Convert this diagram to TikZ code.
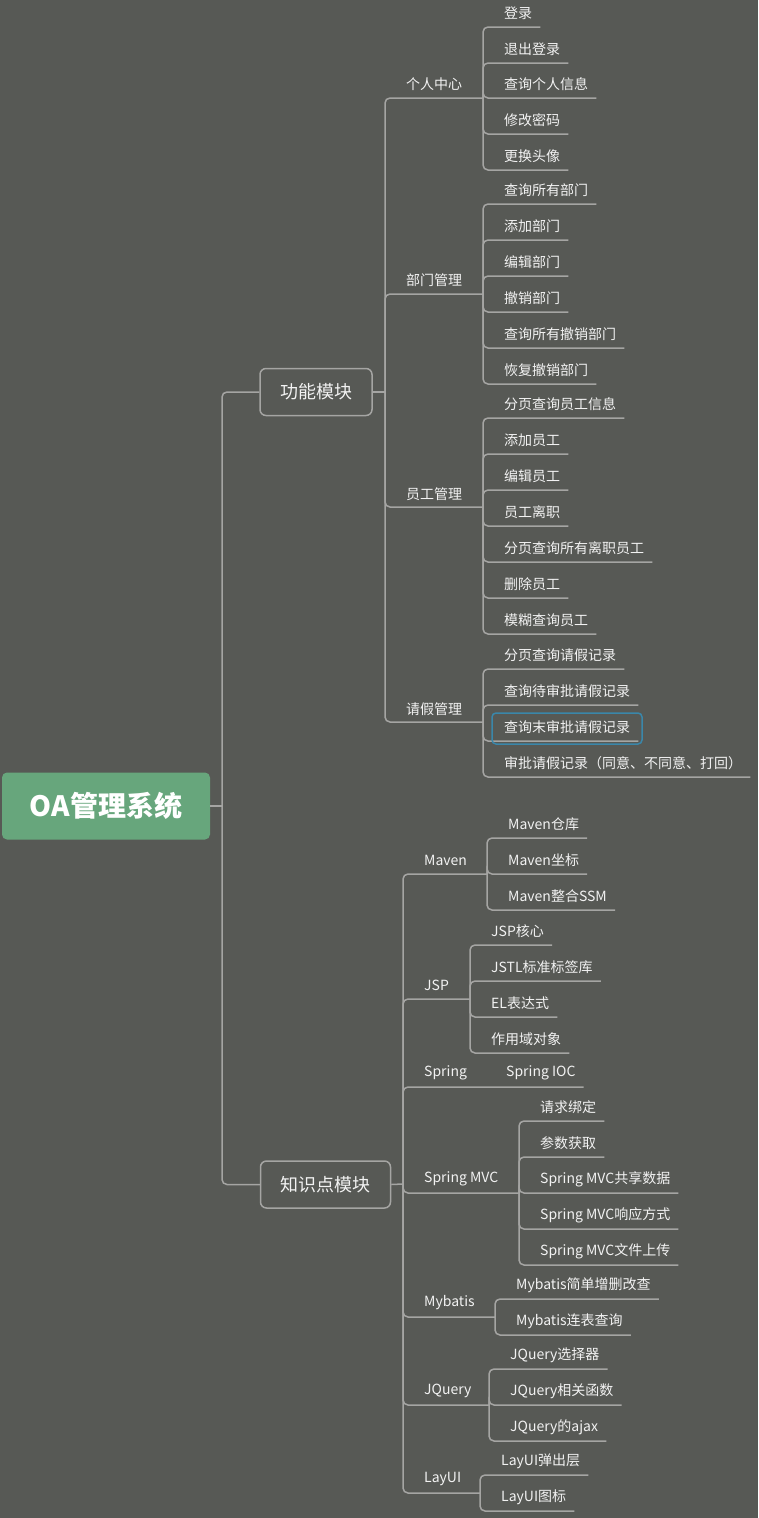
\documentclass[tikz,border=0pt]{standalone}
\usepackage{fontspec}
\setmainfont{Noto Sans CJK SC}
\definecolor{bggray}{RGB}{87,89,85}
\definecolor{linegray}{RGB}{165,165,163}
\definecolor{textwhite}{RGB}{242,242,242}
\definecolor{rootgreen}{RGB}{103,166,124}
\definecolor{markblue}{RGB}{58,135,170}
\begin{document}
\begin{tikzpicture}[x=1pt,y=-1pt,
  link/.style={draw=linegray,line width=1.5pt,rounded corners=5pt},
  leaf/.style={anchor=west,inner sep=0pt,text=textwhite,font=\fontsize{14}{16}\selectfont},
  topic/.style={draw=linegray,line width=1.5pt,rounded corners=6pt,text=textwhite,
    font=\fontsize{18}{20}\selectfont,inner xsep=20pt,inner ysep=0pt,minimum height=47pt},
  rootbox/.style={fill=rootgreen,rounded corners=5pt,text=white,
    font=\fontsize{28}{30}\selectfont\bfseries,minimum width=208pt,minimum height=67pt},
  hilite/.style={draw=markblue,line width=1.5pt,rounded corners=4pt}]

  % Background and page size
  \fill[bggray] (0,0) rectangle (758,1518);
  \useasboundingbox (0,0) rectangle (758,1518);

  % Marking root and main topics
  \node[rootbox] (root) at (106,806) {OA管理系统};
  \node[topic] (func) at (316,392) {功能模块};
  \node[topic] (know) at (325.5,1184.5) {知识点模块};

  % Junction points on the trunks
  \coordinate (jroot) at (222,806);
  \coordinate (jfunc) at (385,392);
  \coordinate (jknow) at (403,1184);
  \coordinate (jpersonal) at (483,98);
  \coordinate (jdept) at (483,294);
  \coordinate (jstaff) at (483,507);
  \coordinate (jleave) at (483,722);
  \coordinate (jmaven) at (487,874);
  \coordinate (jjsp) at (470,999);
  \coordinate (jspringmvc) at (519,1193);
  \coordinate (jmybatis) at (495,1317);
  \coordinate (jjquery) at (489,1405);
  \coordinate (jlayui) at (480,1493);

  % Drawing lines root -> topics
  \draw[link] (root.east) -- (jroot);
  \draw[link] (jroot) |- (func.west);
  \draw[link] (jroot) |- (know.west);
  \draw[link] (func.east) -- (jfunc);
  \draw[link] (know.east) -- (jknow);

  % Marking node 个人中心
  \node[leaf] (personal) at (406,84) {个人中心};
  \draw[link] (jfunc) |- (jpersonal);
  \node[leaf] (p1) at (504,13) {登录};
  \node[leaf] (p2) at (504,49) {退出登录};
  \node[leaf] (p3) at (504,84) {查询个人信息};
  \node[leaf] (p4) at (504,120) {修改密码};
  \node[leaf] (p5) at (504,156) {更换头像};
  \draw[link] (jpersonal) |- ([xshift=8pt,yshift=-14pt]p1.east);
  \draw[link] (jpersonal) |- ([xshift=8pt,yshift=-14pt]p2.east);
  \draw[link] (jpersonal) |- ([xshift=8pt,yshift=-14pt]p3.east);
  \draw[link] (jpersonal) |- ([xshift=8pt,yshift=-14pt]p4.east);
  \draw[link] (jpersonal) |- ([xshift=8pt,yshift=-14pt]p5.east);

  % Marking node 部门管理
  \node[leaf] (dept) at (406,280) {部门管理};
  \draw[link] (jfunc) |- (jdept);
  \node[leaf] (d1) at (504,190) {查询所有部门};
  \node[leaf] (d2) at (504,226) {添加部门};
  \node[leaf] (d3) at (504,262) {编辑部门};
  \node[leaf] (d4) at (504,298) {撤销部门};
  \node[leaf] (d5) at (504,334) {查询所有撤销部门};
  \node[leaf] (d6) at (504,370) {恢复撤销部门};
  \draw[link] (jdept) |- ([xshift=8pt,yshift=-14pt]d1.east);
  \draw[link] (jdept) |- ([xshift=8pt,yshift=-14pt]d2.east);
  \draw[link] (jdept) |- ([xshift=8pt,yshift=-14pt]d3.east);
  \draw[link] (jdept) |- ([xshift=8pt,yshift=-14pt]d4.east);
  \draw[link] (jdept) |- ([xshift=8pt,yshift=-14pt]d5.east);
  \draw[link] (jdept) |- ([xshift=8pt,yshift=-14pt]d6.east);

  % Marking node 员工管理
  \node[leaf] (staff) at (406,494) {员工管理};
  \draw[link] (jfunc) |- (jstaff);
  \node[leaf] (s1) at (504,404) {分页查询员工信息};
  \node[leaf] (s2) at (504,440) {添加员工};
  \node[leaf] (s3) at (504,476) {编辑员工};
  \node[leaf] (s4) at (504,512) {员工离职};
  \node[leaf] (s5) at (504,548) {分页查询所有离职员工};
  \node[leaf] (s6) at (504,584) {删除员工};
  \node[leaf] (s7) at (504,620) {模糊查询员工};
  \draw[link] (jstaff) |- ([xshift=8pt,yshift=-14pt]s1.east);
  \draw[link] (jstaff) |- ([xshift=8pt,yshift=-14pt]s2.east);
  \draw[link] (jstaff) |- ([xshift=8pt,yshift=-14pt]s3.east);
  \draw[link] (jstaff) |- ([xshift=8pt,yshift=-14pt]s4.east);
  \draw[link] (jstaff) |- ([xshift=8pt,yshift=-14pt]s5.east);
  \draw[link] (jstaff) |- ([xshift=8pt,yshift=-14pt]s6.east);
  \draw[link] (jstaff) |- ([xshift=8pt,yshift=-14pt]s7.east);

  % Marking node 请假管理
  \node[leaf] (leave) at (406,709) {请假管理};
  \draw[link] (jfunc) |- (jleave);
  \node[leaf] (v1) at (504,655) {分页查询请假记录};
  \node[leaf] (v2) at (504,691) {查询待审批请假记录};
  \node[leaf] (v3) at (504,727) {查询末审批请假记录};
  \node[leaf] (v4) at (504,763) {审批请假记录（同意、不同意、打回）};
  \draw[link] (jleave) |- ([xshift=8pt,yshift=-14pt]v1.east);
  \draw[link] (jleave) |- ([xshift=8pt,yshift=-14pt]v2.east);
  \draw[link] (jleave) |- ([xshift=8pt,yshift=-14pt]v3.east);
  \draw[link] (jleave) |- ([xshift=8pt,yshift=-14pt]v4.east);
  \draw[hilite] (492,713) rectangle (642,744);

  % Marking node Maven
  \node[leaf] (maven) at (424,860) {Maven};
  \draw[link] (jknow) |- (jmaven);
  \node[leaf] (mv1) at (508,824) {Maven仓库};
  \node[leaf] (mv2) at (508,860) {Maven坐标};
  \node[leaf] (mv3) at (508,896) {Maven整合SSM};
  \draw[link] (jmaven) |- ([xshift=8pt,yshift=-14pt]mv1.east);
  \draw[link] (jmaven) |- ([xshift=8pt,yshift=-14pt]mv2.east);
  \draw[link] (jmaven) |- ([xshift=8pt,yshift=-14pt]mv3.east);

  % Marking node JSP
  \node[leaf] (jsp) at (424,985) {JSP};
  \draw[link] (jknow) |- (jjsp);
  \node[leaf] (js1) at (491,931) {JSP核心};
  \node[leaf] (js2) at (491,967) {JSTL标准标签库};
  \node[leaf] (js3) at (491,1003) {EL表达式};
  \node[leaf] (js4) at (491,1039) {作用域对象};
  \draw[link] (jjsp) |- ([xshift=8pt,yshift=-14pt]js1.east);
  \draw[link] (jjsp) |- ([xshift=8pt,yshift=-14pt]js2.east);
  \draw[link] (jjsp) |- ([xshift=8pt,yshift=-14pt]js3.east);
  \draw[link] (jjsp) |- ([xshift=8pt,yshift=-14pt]js4.east);

  % Marking node Spring
  \node[leaf] (spring) at (424,1073) {Spring};
  \node[leaf] (sp1) at (506,1073) {Spring IOC};
  \draw[link] (jknow) |- ([xshift=8pt,yshift=-14pt]sp1.east);

  % Marking node Spring MVC
  \node[leaf] (springmvc) at (424,1179) {Spring MVC};
  \draw[link] (jknow) |- (jspringmvc);
  \node[leaf] (sm1) at (540,1107) {请求绑定};
  \node[leaf] (sm2) at (540,1143) {参数获取};
  \node[leaf] (sm3) at (540,1179) {Spring MVC共享数据};
  \node[leaf] (sm4) at (540,1215) {Spring MVC响应方式};
  \node[leaf] (sm5) at (540,1251) {Spring MVC文件上传};
  \draw[link] (jspringmvc) |- ([xshift=8pt,yshift=-14pt]sm1.east);
  \draw[link] (jspringmvc) |- ([xshift=8pt,yshift=-14pt]sm2.east);
  \draw[link] (jspringmvc) |- ([xshift=8pt,yshift=-14pt]sm3.east);
  \draw[link] (jspringmvc) |- ([xshift=8pt,yshift=-14pt]sm4.east);
  \draw[link] (jspringmvc) |- ([xshift=8pt,yshift=-14pt]sm5.east);

  % Marking node Mybatis
  \node[leaf] (mybatis) at (424,1303) {Mybatis};
  \draw[link] (jknow) |- (jmybatis);
  \node[leaf] (mb1) at (516,1285) {Mybatis简单增删改查};
  \node[leaf] (mb2) at (516,1321) {Mybatis连表查询};
  \draw[link] (jmybatis) |- ([xshift=8pt,yshift=-14pt]mb1.east);
  \draw[link] (jmybatis) |- ([xshift=8pt,yshift=-14pt]mb2.east);

  % Marking node JQuery
  \node[leaf] (jquery) at (424,1391) {JQuery};
  \draw[link] (jknow) |- (jjquery);
  \node[leaf] (jq1) at (510,1355) {JQuery选择器};
  \node[leaf] (jq2) at (510,1391) {JQuery相关函数};
  \node[leaf] (jq3) at (510,1427) {JQuery的ajax};
  \draw[link] (jjquery) |- ([xshift=8pt,yshift=-14pt]jq1.east);
  \draw[link] (jjquery) |- ([xshift=8pt,yshift=-14pt]jq2.east);
  \draw[link] (jjquery) |- ([xshift=8pt,yshift=-14pt]jq3.east);

  % Marking node LayUI
  \node[leaf] (layui) at (424,1479) {LayUI};
  \draw[link] (jknow) |- (jlayui);
  \node[leaf] (lu1) at (501,1461) {LayUI弹出层};
  \node[leaf] (lu2) at (501,1497) {LayUI图标};
  \draw[link] (jlayui) |- ([xshift=8pt,yshift=-14pt]lu1.east);
  \draw[link] (jlayui) |- ([xshift=8pt,yshift=-14pt]lu2.east);
\end{tikzpicture}
\end{document}
